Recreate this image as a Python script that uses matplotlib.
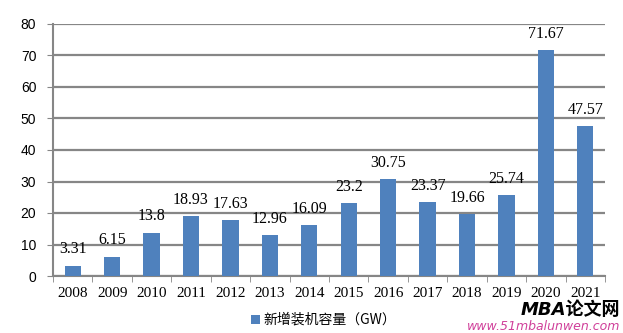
import numpy as np
import matplotlib
matplotlib.use("Agg")
import matplotlib.pyplot as plt
from matplotlib.ticker import FixedLocator

years = ['2008', '2009', '2010', '2011', '2012', '2013', '2014',
         '2015', '2016', '2017', '2018', '2019', '2020', '2021']
capacity = [3.31, 6.15, 13.8, 18.93, 17.63, 12.96, 16.09,
            23.2, 30.75, 23.37, 19.66, 25.74, 71.67, 47.57]
labels = ['3.31', '6.15', '13.8', '18.93', '17.63', '12.96', '16.09',
          '23.2', '30.75', '23.37', '19.66', '25.74', '71.67', '47.57']
series_name = '新增装机容量（GW）'

plt.rcParams['font.family'] = ['Liberation Serif', 'Noto Sans CJK SC', 'DejaVu Sans']

fig = plt.figure(figsize=(6.23, 3.33), dpi=100)
ax = fig.add_axes([53/623, 1-276/333, 552/623, 252/333])

x = np.arange(len(years))
ax.bar(x, capacity, width=0.41, color='#4F81BD', zorder=3, label=series_name)

# 数据标签
for xi, v, s in zip(x, capacity, labels):
    ax.annotate(s, (xi, v), xytext=(0, 6), textcoords='offset points',
                ha='center', va='bottom', fontsize=11.5, color='#000000')

ax.set_xlim(-0.5, len(years)-0.5)
ax.set_ylim(0, 80)
ax.set_yticks(range(0, 81, 10))
ax.tick_params(axis='y', labelsize=10, length=4, color='#868686', pad=8)
for t in ax.get_yticklabels():
    t.set_family(['Liberation Sans'])
ax.yaxis.grid(True, color='#868686', linewidth=1.6, zorder=0)
ax.set_axisbelow(True)

ax.set_xticks(x)
ax.set_xticklabels(years, fontsize=11)
ax.tick_params(axis='x', length=0, pad=8)
ax.xaxis.set_minor_locator(FixedLocator(np.arange(-0.5, len(years), 1)))
ax.tick_params(axis='x', which='minor', length=4, color='#868686')

for side in ['top', 'right']:
    ax.spines[side].set_visible(False)
for side in ['left', 'bottom']:
    ax.spines[side].set_color('#868686')
    ax.spines[side].set_linewidth(1.5)

fig.legend(loc='center', bbox_to_anchor=(324/623, 1-320/333), frameon=False,
           handlelength=0.6, handleheight=0.6, handletextpad=0.3,
           prop={'family': ['Noto Sans CJK SC'], 'size': 10})

fig.text(620/623, 1-310/333, 'MBA论文网', ha='right', va='center', fontsize=13,
         fontweight='bold', style='italic', family=['DejaVu Sans', 'Noto Sans CJK SC'])
fig.text(620/623, 1-327/333, 'www.51mbalunwen.com', ha='right', va='center', fontsize=9,
         style='italic', color='#d0409a', family=['DejaVu Sans'])

fig.savefig('out.png', dpi=100)
